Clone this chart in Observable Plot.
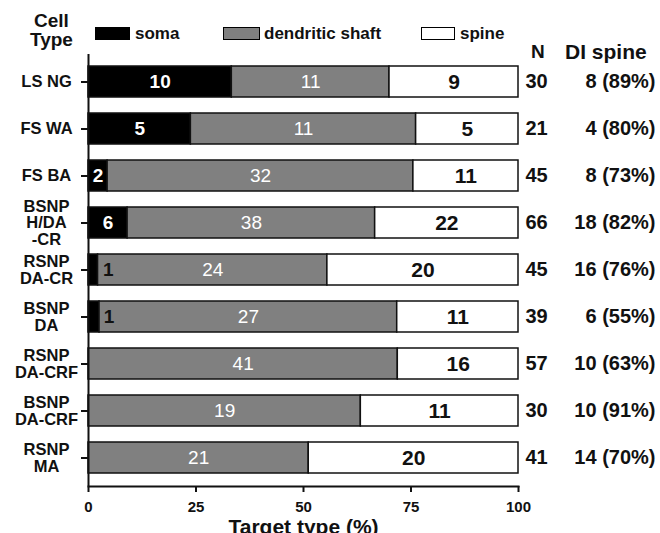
<!DOCTYPE html>
<html>
<head>
<meta charset="utf-8">
<script src="https://cdn.jsdelivr.net/npm/d3@7"></script>
<script src="https://cdn.jsdelivr.net/npm/@observablehq/plot@0.6"></script>
<style>
  body { margin: 0; background: #fff; font-family: "Liberation Sans", Arial, sans-serif; color: #111; }
  #header { position: relative; width: 660px; height: 54px; z-index: 2; font-weight: bold; }
  #header .t { position: absolute; white-space: nowrap; line-height: 1; }
  #header .sw { position: absolute; box-sizing: border-box; border: 1.5px solid #000; }
  #chart { position: relative; z-index: 1; }
  #chart svg { background: transparent; }
</style>
</head>
<body>
<div id="header"></div>
<div id="chart"></div>
<script>
// ---- data ----
const cellTypes = ["LS NG", "FS WA", "FS BA", "BSNP\nH/DA\n-CR", "RSNP\nDA-CR", "BSNP\nDA", "RSNP\nDA-CRF", "BSNP\nDA-CRF", "RSNP\nMA"];
const soma  = [10, 5, 2, 6, 1, 1, 0, 0, 0];
const shaft = [11, 11, 32, 38, 24, 27, 41, 19, 21];
const spine = [9, 5, 11, 22, 20, 11, 16, 11, 20];
const nTotal = [30, 21, 45, 66, 45, 39, 57, 30, 41];
const diSpine = ["8 (89%)", "4 (80%)", "8 (73%)", "18 (82%)", "16 (76%)", "6 (55%)", "10 (63%)", "10 (91%)", "14 (70%)"];
const targets = ["soma", "dendritic shaft", "spine"];
const xTicks = [0, 25, 50, 75, 100];
const xLabel = "Target type (%)";

// ---- styles ----
const palette = ["#000000", "#808080", "#ffffff"];

// ---- header / legend (HTML) ----
const header = document.getElementById("header");
function addText(txt, left, top, size, extra) {
  const d = document.createElement("div");
  d.className = "t";
  d.style.left = left + "px";
  d.style.top = top + "px";
  d.style.fontSize = size + "px";
  if (extra) Object.assign(d.style, extra);
  d.innerHTML = txt;
  header.appendChild(d);
  return d;
}
addText("Cell<br>Type", 30, 11, 19, {textAlign: "center", lineHeight: "19px"});
const swLeft = [95, 223, 421];
const swWidth = [35, 37, 34];
const txtLeft = [135, 264, 460];
targets.forEach((t, i) => {
  const s = document.createElement("div");
  s.className = "sw";
  s.style.left = swLeft[i] + "px";
  s.style.top = "27px";
  s.style.width = swWidth[i] + "px";
  s.style.height = "13px";
  s.style.background = palette[i];
  header.appendChild(s);
  addText(t, txtLeft[i], 25, 17);
});
addText("N", 531, 42, 19);
addText("DI spine", 565, 41, 21);

// ---- rows ----
const series = [soma, shaft, spine];
const rows = cellTypes.flatMap((cell, i) =>
  targets.map((t, j) => ({cell, target: t, count: series[j][i], N: nTotal[i], pct: series[j][i] / nTotal[i] * 100}))
);
const rowInfo = cellTypes.map((cell, i) => ({cell, N: nTotal[i], di: diSpine[i]}));

const stackOpts = (extra) => Plot.stackX({y: "cell", x: "pct", z: "target", order: targets, ...extra});

const chart = Plot.plot({
  width: 660,
  height: 479,
  marginTop: 0,
  marginBottom: 47,
  marginLeft: 88,
  marginRight: 142,
  style: {fontFamily: "Liberation Sans, Arial, sans-serif", fontWeight: "bold", fontSize: "15px", color: "#111", background: "transparent"},
  x: {domain: [0, 100]},
  y: {domain: cellTypes, paddingInner: 0.333, paddingOuter: 0.167},
  color: {domain: targets, range: palette},
  marks: [
    Plot.barX(rows, stackOpts({fill: "target", stroke: "#111", strokeWidth: 1.5})),
    // soma labels (white, inside)
    Plot.text(rows, stackOpts({text: d => d.target === "soma" && d.count > 1 ? String(d.count) : null, fill: "white", fontSize: 19, fontWeight: "bold"})),
    // soma labels of 1 (black, beside)
    Plot.text(rows, stackOpts({text: d => d.target === "soma" && d.count === 1 ? String(d.count) : null, fill: "#111", fontSize: 19, fontWeight: "bold", dx: 15})),
    // shaft labels
    Plot.text(rows, stackOpts({text: d => d.target === "dendritic shaft" ? String(d.count) : null, fill: "white", fontSize: 19, fontWeight: "normal"})),
    // spine labels
    Plot.text(rows, stackOpts({text: d => d.target === "spine" ? String(d.count) : null, fill: "#111", fontSize: 21, fontWeight: "bold"})),
    // axes
    Plot.ruleX([0], {stroke: "#111", strokeWidth: 2}),
    Plot.frame({anchor: "bottom", stroke: "#111", strokeWidth: 2}),
    Plot.axisY({tickSize: 7, strokeWidth: 2, tickFormat: () => "", label: null}),
    Plot.text(cellTypes, {y: d => d, text: d => d, frameAnchor: "left", dx: -42, textAnchor: "middle", lineHeight: 1, fontSize: 16.5, fontWeight: "bold", fill: "#111"}),
    Plot.axisX({ticks: xTicks, tickSize: 6, tickPadding: 9, strokeWidth: 2, fontSize: 15, fontWeight: "bold", label: null}),
    Plot.text([xLabel], {text: d => d, frameAnchor: "bottom", dy: 33, lineAnchor: "top", fontSize: 21, fontWeight: "bold", fill: "#111"}),
    // right columns
    Plot.text(rowInfo, {y: "cell", text: d => String(d.N), frameAnchor: "right", dx: 7, textAnchor: "start", fontSize: 20, fontWeight: "bold", fill: "#111", letterSpacing: "0.5px"}),
    Plot.text(rowInfo, {y: "cell", text: "di", frameAnchor: "right", dx: 137, textAnchor: "end", fontSize: 20, fontWeight: "bold", fill: "#111", letterSpacing: "1.4px"})
  ]
});
document.getElementById("chart").appendChild(chart);
</script>
</body>
</html>
